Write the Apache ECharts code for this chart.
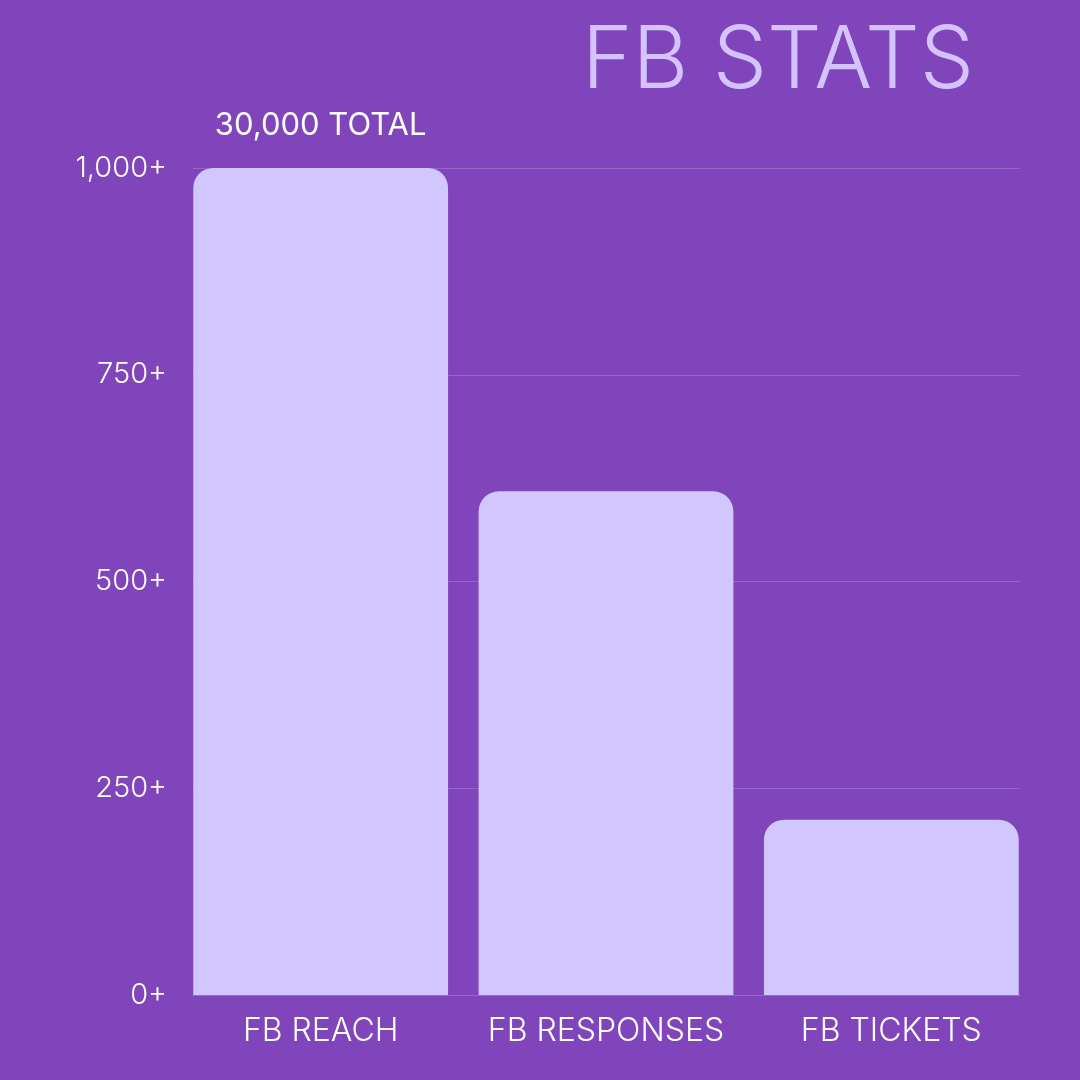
<!DOCTYPE html>
<html><head><meta charset="utf-8">
<script src="https://cdn.jsdelivr.net/npm/echarts@6/dist/echarts.min.js"></script>
<style>html,body{margin:0;padding:0;background:#8044BB;}#c{width:1080px;height:1080px;}</style>
</head><body><div id="c"></div>
<script>
const categories = ['FB REACH', 'FB RESPONSES', 'FB TICKETS'];
const values = [1000, 609, 212];
const barNotes = ['30,000 TOTAL', '', ''];
const yTicks = [0, 250, 500, 750, 1000];
const titleText = 'FB STATS';

const FONT = 'Inter';
const chart = echarts.init(document.getElementById('c'));
chart.setOption({
  backgroundColor: '#8044BB',
  animation: false,
  title: {
    text: titleText, left: 773, top: 14, textAlign: 'center',
    textStyle: { color: '#D4C3FF', fontSize: 86, fontWeight: 300, fontFamily: FONT }
  },
  grid: [
    { left: 193, right: 60, top: 168, bottom: 85 },
    { left: 178, right: 46, top: 168, bottom: 85 }
  ],
  xAxis: [{
    gridIndex: 0, type: 'category', data: categories,
    axisLine: { show: true, lineStyle: { color: '#9A6ACB', width: 1 } },
    axisTick: { show: false }, axisLabel: { show: false }
  }, {
    gridIndex: 1, type: 'category', data: categories,
    axisLine: { show: false }, axisTick: { show: false },
    axisLabel: { interval: 0, color: '#FFFFFF', fontSize: 32, fontWeight: 300, fontFamily: FONT, margin: 20 }
  }],
  yAxis: [{
    gridIndex: 0, type: 'value', min: 0, max: 1000, interval: 250,
    axisLine: { show: false }, axisTick: { show: false },
    splitLine: { lineStyle: { color: 'rgba(255,255,255,0.18)', width: 1 } },
    axisLabel: {
      color: '#FFFFFF', fontSize: 29, fontWeight: 300, fontFamily: FONT, margin: 26,
      formatter: v => yTicks.includes(v) ? v.toLocaleString('en-US') + '+' : ''
    }
  }, {
    gridIndex: 1, type: 'value', min: 0, max: 1000, interval: 250, show: false
  }],
  series: [{
    type: 'bar', xAxisIndex: 1, yAxisIndex: 1, data: values, barCategoryGap: '10.7%',
    itemStyle: { color: '#D2C6FE', borderRadius: [20, 20, 0, 0] },
    label: {
      show: true, position: 'top', distance: 27,
      formatter: p => barNotes[p.dataIndex],
      color: '#FFFFFF', fontSize: 31, fontWeight: 400, fontFamily: FONT
    }
  }]
});
</script></body></html>
